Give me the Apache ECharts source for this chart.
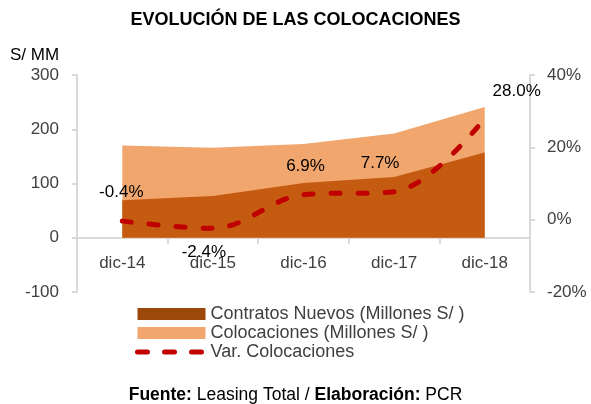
<!DOCTYPE html>
<html>
<head>
<meta charset="utf-8">
<script src="https://cdn.jsdelivr.net/npm/echarts@6/dist/echarts.min.js"></script>
<style>
  html, body { margin: 0; padding: 0; background: #fff; }
  #chart { width: 591px; height: 404px; }
</style>
</head>
<body>
<div id="chart"></div>
<script>
// datos
const periodos = ['dic-14', 'dic-15', 'dic-16', 'dic-17', 'dic-18']
const contratosNuevos = [69, 77, 101, 112, 157]
const colocaciones = [170, 166, 173, 192, 241]
const varColocaciones = [-0.4, -2.4, 6.9, 7.7, 28.0]

const textColor = '#404040'
const axisColor = '#d9d9d9'
const font = 'Liberation Sans, Arial, sans-serif'

// desplazamiento de cada etiqueta del % (igual que en el original)
const labelPos = [
  { position: 'top', offset: [-1, -15] },
  { position: 'bottom', offset: [-9, 10] },
  { position: 'top', offset: [2, -15] },
  { position: 'top', offset: [-14, -15] },
  { position: 'top', offset: [32, -14] },
]

const chart = echarts.init(document.getElementById('chart'))

chart.setOption({
  animation: false,
  textStyle: { fontFamily: font },
  title: [
    {
      text: 'EVOLUCIÓN DE LAS COLOCACIONES',
      left: 'center',
      top: 6,
      textStyle: { fontSize: 18, fontWeight: 'bold', color: '#000', fontFamily: font },
    },
    {
      text: 'S/ MM',
      left: 5,
      top: 42,
      textStyle: { fontSize: 17, fontWeight: 'normal', color: '#000', fontFamily: font },
    },
    {
      text: '{b|Fuente:} Leasing Total / {b|Elaboración:} PCR',
      left: 'center',
      top: 381,
      textStyle: {
        fontSize: 17.5,
        fontWeight: 'normal',
        color: '#000',
        fontFamily: font,
        rich: { b: { fontWeight: 'bold', fontSize: 17.5, fontFamily: font } },
      },
    },
  ],
  legend: {
    orient: 'vertical',
    left: 130,
    top: 300,
    itemWidth: 68,
    itemHeight: 12,
    itemGap: 1,
    textStyle: { fontSize: 18, color: textColor, fontFamily: font },
    data: [
      { name: 'Contratos Nuevos (Millones S/ )', icon: 'rect', itemStyle: { color: '#9b480a' } },
      { name: 'Colocaciones (Millones S/ )', icon: 'rect' },
      {
        name: 'Var. Colocaciones',
        itemStyle: { opacity: 0 },
        lineStyle: { width: 5, type: [10, 17], cap: 'round', color: '#c00000' },
      },
    ],
  },
  grid: { left: 77, right: 61, top: 75, bottom: 112 },
  xAxis: {
    type: 'category',
    data: periodos,
    boundaryGap: true,
    offset: -54.25,
    axisLine: { onZero: false, lineStyle: { color: axisColor, width: 2 } },
    axisTick: { show: true, length: 6, lineStyle: { color: axisColor, width: 2 } },
    axisLabel: { color: textColor, fontSize: 17, margin: 17 },
    splitLine: { show: false },
  },
  yAxis: [
    {
      type: 'value',
      min: -100,
      max: 300,
      interval: 100,
      axisLine: { show: true, lineStyle: { color: axisColor, width: 2 } },
      axisTick: { show: true, length: 5, lineStyle: { color: axisColor, width: 2 } },
      axisLabel: { color: textColor, fontSize: 17, margin: 18 },
      splitLine: { show: false },
    },
    {
      type: 'value',
      min: -20,
      max: 40,
      interval: 20,
      axisLine: { show: true, lineStyle: { color: axisColor, width: 2 } },
      axisTick: { show: true, length: 5, lineStyle: { color: axisColor, width: 2 } },
      axisLabel: { color: textColor, fontSize: 17, margin: 17, formatter: '{value}%' },
      splitLine: { show: false },
    },
  ],
  series: [
    {
      name: 'Colocaciones (Millones S/ )',
      type: 'line',
      data: colocaciones,
      symbol: 'none',
      itemStyle: { color: '#f0a66d' },
      lineStyle: { width: 0 },
      areaStyle: { color: '#f0a66d', opacity: 1 },
      z: 1,
    },
    {
      name: 'Contratos Nuevos (Millones S/ )',
      type: 'line',
      data: contratosNuevos,
      symbol: 'none',
      itemStyle: { color: '#c55a11' },
      lineStyle: { width: 0 },
      areaStyle: { color: '#c55a11', opacity: 1 },
      z: 2,
    },
    {
      name: 'Var. Colocaciones',
      type: 'line',
      yAxisIndex: 1,
      smooth: 0.35,
      data: varColocaciones.map((v, i) => ({
        value: v,
        label: labelPos[i],
      })),
      symbol: 'circle',
      symbolSize: 0,
      showSymbol: true,
      itemStyle: { color: '#c00000' },
      lineStyle: { color: '#c00000', width: 5, type: [9, 18], cap: 'round' },
      label: {
        show: true,
        color: '#000',
        fontSize: 17,
        fontFamily: font,
        formatter: p => p.value.toFixed(1) + '%',
      },
      z: 3,
    },
  ],
})
</script>
</body>
</html>
